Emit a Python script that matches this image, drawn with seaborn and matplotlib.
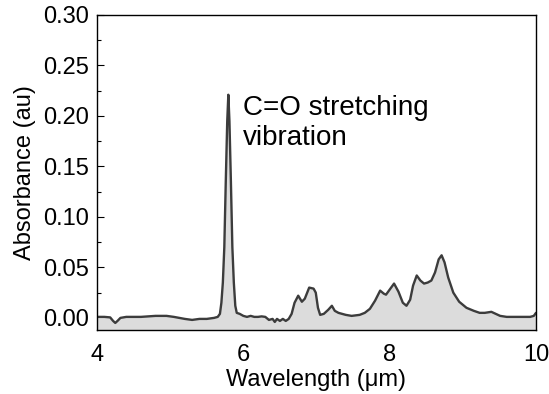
import matplotlib
matplotlib.use("Agg")
import matplotlib.pyplot as plt
from matplotlib.ticker import MultipleLocator
import seaborn as sns
import pandas as pd

# Infrared absorbance spectrum (wavelength in micrometres, absorbance in au)
wavelength = [
    4.00, 4.10, 4.18, 4.22, 4.25, 4.28, 4.32, 4.40, 4.60, 4.80, 4.95, 5.05,
    5.20, 5.30, 5.40, 5.50, 5.60, 5.65, 5.68, 5.70, 5.72, 5.74, 5.76, 5.78,
    5.795, 5.81, 5.83, 5.85, 5.87, 5.89, 5.91, 5.95, 6.00, 6.05, 6.10, 6.15,
    6.20, 6.25, 6.30, 6.35, 6.40, 6.43, 6.46, 6.50, 6.54, 6.58, 6.62, 6.66,
    6.70, 6.75, 6.80, 6.84, 6.90, 6.96, 6.99, 7.02, 7.05, 7.10, 7.16, 7.21,
    7.25, 7.30, 7.40, 7.48, 7.59, 7.66, 7.73, 7.80, 7.87, 7.92, 7.95, 8.00,
    8.06, 8.12, 8.18, 8.23, 8.28, 8.32, 8.37, 8.42, 8.47, 8.52, 8.57, 8.62,
    8.67, 8.71, 8.75, 8.80, 8.87, 8.95, 9.05, 9.15, 9.23, 9.30, 9.39, 9.45,
    9.51, 9.60, 9.69, 9.80, 9.92, 9.97, 10.00,
]
absorbance = [
    0.001, 0.001, 0.0005, -0.003, -0.005, -0.003, 0.000, 0.001, 0.001, 0.002, 0.002, 0.001,
    -0.001, -0.002, -0.001, -0.001, 0.000, 0.001, 0.004, 0.015, 0.035, 0.070, 0.135, 0.195,
    0.221, 0.195, 0.135, 0.070, 0.035, 0.012, 0.005, 0.004, 0.002, 0.001, 0.002, 0.001,
    0.001, 0.0015, 0.001, -0.002, -0.001, -0.004, -0.001, -0.003, -0.001, -0.003, -0.001, 0.004,
    0.015, 0.022, 0.016, 0.019, 0.030, 0.029, 0.025, 0.010, 0.003, 0.004, 0.008, 0.012,
    0.007, 0.005, 0.003, 0.002, 0.003, 0.005, 0.009, 0.017, 0.027, 0.024, 0.023, 0.028,
    0.034, 0.026, 0.015, 0.012, 0.018, 0.032, 0.042, 0.037, 0.034, 0.035, 0.037, 0.045,
    0.058, 0.062, 0.055, 0.040, 0.025, 0.016, 0.010, 0.007, 0.005, 0.005, 0.006, 0.004,
    0.002, 0.001, 0.001, 0.001, 0.001, 0.002, 0.005,
]
x_ticks = [4, 6, 8, 10]
annotation_lines = ["C=O stretching", "vibration"]

df = pd.DataFrame({"Wavelength": wavelength, "Absorbance": absorbance})

sns.set_style("ticks")
plt.rcParams["font.family"] = ["Liberation Sans", "DejaVu Sans"]
plt.rcParams["text.color"] = "black"
plt.rcParams["axes.labelcolor"] = "black"
plt.rcParams["xtick.color"] = "black"
plt.rcParams["ytick.color"] = "black"

fig = plt.figure(figsize=(5.49, 3.94), dpi=100)
ax = fig.add_axes([0.1767, 0.1624, 0.7996, 0.7996])

y_min, y_max = -0.012, 0.30
ax.fill_between(df["Wavelength"], df["Absorbance"], y_min,
                color="#dcdcdc", linewidth=0, zorder=1)
sns.lineplot(data=df, x="Wavelength", y="Absorbance", ax=ax, sort=False,
             color="#3c3c3c", linewidth=1.7, zorder=2)

ax.set_xlim(4, 10)
ax.set_ylim(y_min, y_max)
ax.set_xticks(x_ticks)
ax.yaxis.set_major_locator(MultipleLocator(0.05))
ax.yaxis.set_minor_locator(MultipleLocator(0.025))
ax.yaxis.set_major_formatter(matplotlib.ticker.FormatStrFormatter("%.2f"))

ax.tick_params(axis="x", length=0, pad=10, labelsize=17, colors="black")
ax.tick_params(axis="y", which="major", direction="in", length=5, width=0.8,
               labelsize=17, pad=6, colors="black")
ax.tick_params(axis="y", which="minor", direction="in", length=3, width=0.8,
               colors="black")

for side in ["top", "right", "left", "bottom"]:
    ax.spines[side].set_visible(True)
    ax.spines[side].set_color("black")
    ax.spines[side].set_linewidth(1.0)

ax.set_xlabel("Wavelength (\u03bcm)", fontsize=17, labelpad=2, color="black")
ax.set_ylabel("Absorbance (au)", fontsize=17, labelpad=5, color="black")

ax.text(6.0, 0.201, annotation_lines[0], fontsize=20, va="baseline", ha="left",
        color="black")
ax.text(6.0, 0.171, annotation_lines[1], fontsize=20, va="baseline", ha="left",
        color="black")

fig.savefig("out.png", dpi=100)
